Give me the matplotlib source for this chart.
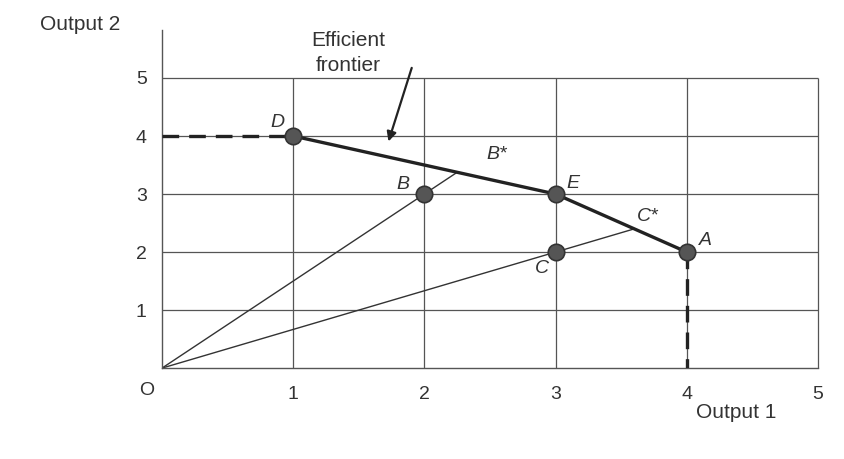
import matplotlib.pyplot as plt

# firms (output 1, output 2)
names = ["A", "B", "C", "D", "E"]
out1 = [4, 2, 3, 1, 3]
out2 = [2, 3, 2, 4, 3]

# efficient frontier goes through D, E, A
frontier = ["D", "E", "A"]

# projections of B and C onto the frontier
bstar = (2.25, 3.375)
cstar = (3.6, 2.4)

ticks = [1, 2, 3, 4, 5]
ink = "#333333"
gridc = "#555555"

plt.rcParams["font.family"] = ["Liberation Sans", "DejaVu Sans"]

fig = plt.figure(figsize=(8.45, 4.59), dpi=100)
ax = fig.add_axes([0.1917, 0.198, 0.968 - 0.1917, 0.935 - 0.198])
ax.set_xlim(0, 5)
ax.set_ylim(0, 5.83)

# grid box
ax.hlines(ticks, 0, 5, color=gridc, lw=0.9, zorder=1, clip_on=False)
ax.vlines(ticks, 0, 5, color=gridc, lw=0.9, zorder=1, clip_on=False)

for s in ["top", "right"]:
    ax.spines[s].set_visible(False)
for s in ["left", "bottom"]:
    ax.spines[s].set_color(gridc)
    ax.spines[s].set_linewidth(1.0)

ax.set_xticks(ticks)
ax.set_yticks(ticks)
ax.tick_params(length=0, labelsize=14, labelcolor=ink)
ax.tick_params(axis="x", pad=13)
ax.tick_params(axis="y", pad=11)

pts = dict(zip(names, zip(out1, out2)))

# rays from origin
for p in [bstar, cstar]:
    ax.plot([0, p[0]], [0, p[1]], color=ink, lw=1.0, zorder=2)

# frontier
fx = [pts[n][0] for n in frontier]
fy = [pts[n][1] for n in frontier]
ax.plot(fx, fy, color="#222222", lw=2.4, zorder=3)
# dashed extensions
ax.plot([0, fx[0]], [fy[0], fy[0]], color="#222222", lw=2.4, ls=(0, (5, 3)), zorder=3)
ax.plot([fx[-1], fx[-1]], [fy[-1], 0], color="#222222", lw=2.4, ls=(0, (5, 3)), zorder=3)

ax.scatter(out1, out2, s=140, color="#555555", edgecolor="#333333", lw=1.2, zorder=4)

# point labels
offsets = {"A": (0.14, 0.2), "B": (-0.16, 0.16), "C": (-0.1, -0.28),
           "D": (-0.12, 0.24), "E": (0.13, 0.19)}
for n in names:
    dx, dy = offsets[n]
    ax.text(pts[n][0] + dx, pts[n][1] + dy, n, fontsize=14, style="italic",
            color=ink, ha="center", va="center")
ax.text(bstar[0] + 0.3, bstar[1] + 0.3, "B*", fontsize=14, style="italic",
        color=ink, ha="center", va="center")
ax.text(cstar[0] + 0.1, cstar[1] + 0.22, "C*", fontsize=14, style="italic",
        color=ink, ha="center", va="center")

ax.text(-0.12, -0.38, "O", fontsize=14, color=ink, ha="center", va="center")
fig.text(80 / 845, 1 - 24 / 459, "Output 2", fontsize=15, color=ink,
         ha="center", va="center")
ax.text(4.38, -0.77, "Output 1", fontsize=15, color=ink, ha="center", va="center")

ax.text(1.42, 5.43, "Efficient\nfrontier", fontsize=15, color=ink, ha="center",
        va="center", linespacing=1.45)
ax.annotate("", xy=(1.72, 3.86), xytext=(1.91, 5.22),
            arrowprops=dict(arrowstyle="-|>", color="#222222", lw=1.6,
                            mutation_scale=14))

fig.savefig("out.png", dpi=100)
